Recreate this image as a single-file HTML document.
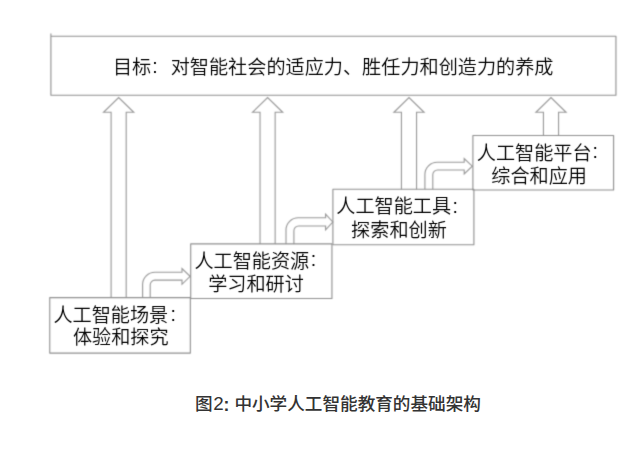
<!DOCTYPE html>
<html lang="zh-CN">
<head>
<meta charset="utf-8">
<title>图2：中小学人工智能教育的基础架构</title>
<style>
html,body{margin:0;padding:0;background:#fff;}
body{width:640px;height:462px;overflow:hidden;position:relative;}
svg{position:absolute;left:0;top:0;display:block;}
.ln{fill:none;stroke:#8e8e8e;stroke-width:1.1;stroke-linejoin:round;}
.fl{fill:none;stroke:#969696;stroke-width:1.1;stroke-linejoin:miter;}
.t{font-family:"Liberation Sans","Noto Sans CJK SC",sans-serif;font-size:19.15px;font-weight:350;fill:#000;}
.c{font-size:19.5px;}
.cap{font-family:"Liberation Sans","Noto Sans CJK SC",sans-serif;font-size:17.63px;font-weight:500;fill:#333;}
</style>
</head>
<body>
<svg width="640" height="462" viewBox="0 0 640 462">
  <defs>
    <filter id="soft" filterUnits="userSpaceOnUse" x="0" y="0" width="640" height="462" color-interpolation-filters="sRGB"><feConvolveMatrix order="3" kernelMatrix="1 4 1 4 16 4 1 4 1" divisor="36" edgeMode="duplicate" preserveAlpha="false"/></filter>
    <filter id="softT" filterUnits="userSpaceOnUse" x="0" y="0" width="640" height="462" color-interpolation-filters="sRGB"><feConvolveMatrix order="3" kernelMatrix="1 9 1 9 81 9 1 9 1" divisor="121" edgeMode="duplicate" preserveAlpha="false"/></filter>
  </defs>
  <rect x="0" y="0" width="640" height="462" fill="#fff"/>
  <g id="diagram" filter="url(#soft)">
  <!-- up arrows -->
  <path class="fl" d="M111.10 297.60 L111.10 112.30 L103.55 112.30 L118.65 97.60 L133.75 112.30 L126.20 112.30 L126.20 297.60"/>
  <path class="fl" d="M260.05 243.90 L260.05 112.30 L252.50 112.30 L267.60 97.60 L282.70 112.30 L275.15 112.30 L275.15 243.90"/>
  <path class="fl" d="M401.45 189.30 L401.45 112.30 L393.90 112.30 L409.00 97.60 L424.10 112.30 L416.55 112.30 L416.55 189.30"/>
  <path class="fl" d="M543.45 135.50 L543.45 112.30 L535.90 112.30 L551.00 97.60 L566.10 112.30 L558.55 112.30 L558.55 135.50"/>
  <!-- bent arrows -->
  <path class="fl" d="M142.60 297.60 L142.60 284.60 A12.3 12.3 0 0 1 154.90 272.30 L182.00 272.30 L182.00 268.50 L190.10 276.30 L182.00 284.30 L182.00 280.15 L154.90 280.15 A4.7 4.7 0 0 0 150.20 284.85 L150.20 297.60"/>
  <path class="fl" d="M286.00 244.00 L286.00 230.10 A12.3 12.3 0 0 1 298.30 217.80 L325.60 217.80 L325.60 214.10 L332.80 222.00 L325.60 229.90 L325.60 226.00 L298.60 226.00 A4.7 4.7 0 0 0 293.90 230.70 L293.90 244.00"/>
  <path class="fl" d="M424.90 189.30 L424.90 174.50 A12.3 12.3 0 0 1 437.20 162.20 L464.20 162.20 L464.20 158.55 L472.25 166.20 L464.20 174.00 L464.20 170.00 L437.50 170.00 A4.7 4.7 0 0 0 432.80 174.70 L432.80 189.30"/>
  <!-- boxes -->
  <path class="ln" d="M50.9 33.6 L50.9 95.3 L615.95 95.3 L615.95 36.25 L50.9 36.25"/>
  <rect class="ln" x="49.75" y="297.6" width="140.6" height="55.5"/>
  <rect class="ln" x="190.7" y="243.9" width="141.25" height="54.6"/>
  <rect class="ln" x="332.9" y="189.3" width="141" height="55.4"/>
  <rect class="ln" x="472.9" y="135.5" width="140.7" height="54.55"/>
  </g>
  <g id="labels" filter="url(#softT)">
  <text class="t" x="112.9" y="73.6">目标<tspan class="c" x="152.3" dy="-1.1">:</tspan><tspan x="170.7" dy="1.1">对智能社会的适应力、胜任力和创造力的养成</tspan></text>
  <text class="t" x="53.4" y="321.7">人工智能场景<tspan class="c" x="170.5" dy="-0.6">:</tspan></text>
  <text class="t" x="72.9" y="344.4">体验和探究</text>
  <text class="t" x="194.4" y="268.2">人工智能资源<tspan class="c" x="310.7" dy="-1.8">:</tspan></text>
  <text class="t" x="208.2" y="291.3">学习和研讨</text>
  <text class="t" x="336.3" y="212.9">人工智能工具<tspan class="c" x="452.6" dy="-0.4">:</tspan></text>
  <text class="t" x="351.1" y="236.8">探索和创新</text>
  <text class="t" x="476.8" y="159.5">人工智能平台<tspan class="c" x="592.6" dy="-1.6">:</tspan></text>
  <text class="t" x="491.3" y="182.8">综合和应用</text>
  </g>
  <g id="caption">
  <text class="cap" y="409.6"><tspan x="195">图</tspan><tspan x="213.3" font-size="18.8">2</tspan><tspan x="223.5" dy="0.9" font-weight="700">:</tspan><tspan x="234.4" dy="-0.9">中小学人工智能教育的基础架构</tspan></text>
  </g>
</svg>
</body>
</html>
